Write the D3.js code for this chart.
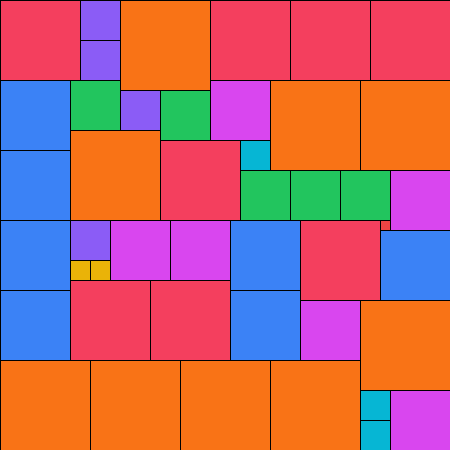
<!DOCTYPE html>
<html>
<head>
<meta charset="utf-8">
<script src="https://cdn.jsdelivr.net/npm/d3@7"></script>
<style>
  html, body { margin: 0; padding: 0; background: #fff; }
  svg { display: block; }
</style>
</head>
<body>
<div id="chart"></div>
<script>
// Square packing — each cell: grid column, grid row, side (grid units), group
const groups = ['red', 'purple', 'orange', 'blue', 'green', 'magenta', 'cyan', 'yellow', 'scarlet'];
const groupColors = ['#f43f5e', '#8b5cf6', '#f97316', '#3b82f6', '#22c55e', '#d946ef', '#06b6d4', '#eab308', '#ef4444'];

const cellGroup = [
  'red', 'purple', 'purple', 'orange', 'red', 'red', 'red',
  'blue', 'blue', 'green', 'purple', 'green', 'magenta', 'orange', 'orange',
  'orange', 'red', 'cyan', 'green', 'green', 'green', 'magenta', 'scarlet', 'blue',
  'blue', 'blue', 'purple', 'yellow', 'yellow', 'magenta', 'magenta',
  'blue', 'blue', 'red', 'magenta', 'orange', 'cyan', 'cyan', 'magenta',
  'red', 'red', 'orange', 'orange', 'orange', 'orange'
];
const cellCol = [
  0, 8, 8, 12, 21, 29, 37,
  0, 0, 7, 12, 16, 21, 27, 36,
  7, 16, 24, 24, 29, 34, 39, 38, 38,
  0, 0, 7, 7, 9, 11, 17,
  23, 23, 30, 30, 36, 36, 36, 39,
  7, 15, 0, 9, 18, 27
];
const cellRow = [
  0, 0, 4, 0, 0, 0, 0,
  8, 15, 8, 9, 9, 8, 8, 8,
  13, 14, 14, 17, 17, 17, 17, 22, 23,
  22, 29, 22, 26, 26, 22, 22,
  22, 29, 22, 30, 30, 39, 42, 39,
  28, 28, 36, 36, 36, 36
];
const cellSide = [
  8, 4, 4, 9, 8, 8, 8,
  7, 7, 5, 4, 5, 6, 9, 9,
  9, 8, 3, 5, 5, 5, 6, 1, 7,
  7, 7, 4, 2, 2, 6, 6,
  7, 7, 8, 6, 9, 3, 3, 6,
  8, 8, 9, 9, 9, 9
];

const width = 450, height = 450;

const svg = d3.select('#chart')
  .append('svg')
  .attr('width', width)
  .attr('height', height);

const xScale = d3.scaleLinear().domain([0, 45]).range([0, width]);
const yScale = d3.scaleLinear().domain([0, 45]).range([0, height]);
const color = d3.scaleOrdinal().domain(groups).range(groupColors);

const cells = cellGroup.map((g, i) => ({
  group: g, col: cellCol[i], row: cellRow[i], side: cellSide[i]
}));

svg.selectAll('rect.cell')
  .data(cells)
  .join('rect')
  .attr('class', 'cell')
  .attr('x', d => xScale(d.col))
  .attr('y', d => yScale(d.row))
  .attr('width', d => xScale(d.col + d.side) - xScale(d.col))
  .attr('height', d => yScale(d.row + d.side) - yScale(d.row))
  .attr('fill', d => color(d.group))
  .attr('stroke', '#000')
  .attr('stroke-width', 1)
  .attr('shape-rendering', 'crispEdges');
</script>
</body>
</html>
